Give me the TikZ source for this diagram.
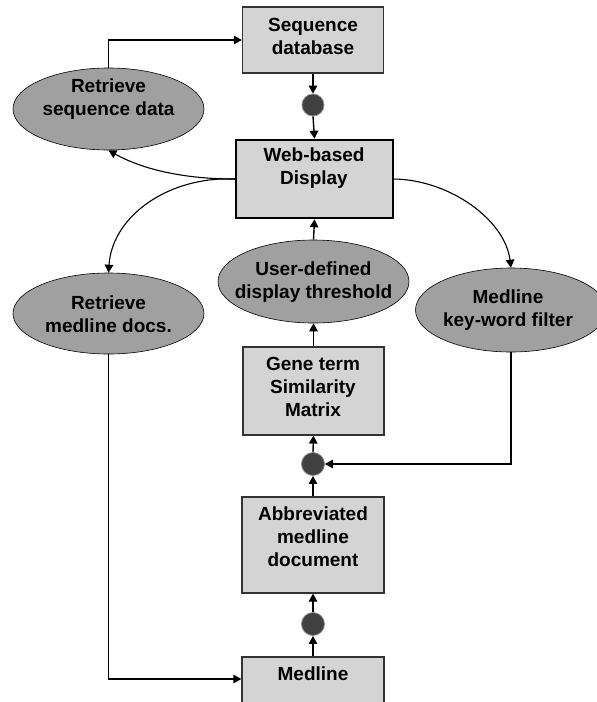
\documentclass[tikz,border=0pt]{standalone}
\usepackage{fontspec}
\setmainfont{Liberation Sans}
\usetikzlibrary{arrows.meta,shapes.geometric}
\definecolor{boxgray}{HTML}{D4D4D4}
\definecolor{ellgray}{HTML}{A0A0A0}
\definecolor{dotgray}{HTML}{404040}
\begin{document}
\begin{tikzpicture}[x=1pt,y=-1pt,
  box/.style={draw=black!80, line width=1.2pt, fill=boxgray, inner sep=0pt},
  ell/.style={ellipse, draw=black, line width=0.6pt, fill=ellgray, inner sep=0pt, minimum width=191pt},
  dot/.style={circle, draw=black!45, line width=0.8pt, fill=dotgray, inner sep=0pt, minimum size=23pt},
  txt/.style={font=\bfseries\fontsize{19}{23}\selectfont, align=center, inner sep=0pt},
  arr/.style={-{Triangle[length=8pt,width=8.5pt]}, line width=1.4pt},
  thin/.style={-{Triangle[length=8pt,width=8.5pt]}, line width=1.1pt}]
\useasboundingbox (0,0) rectangle (597,702);

% boxes
\node[box, minimum width=141pt, minimum height=66pt] (sd) at (313,40) {};
\node[box, draw=black, line width=2.5pt, minimum width=157pt, minimum height=78pt] (web) at (314.5,179) {};
\node[box, minimum width=141pt, minimum height=88pt] (gene) at (313.5,391) {};
\node[box, minimum width=142pt, minimum height=96pt] (abb) at (313,545) {};
\node[box, minimum width=142pt, minimum height=50pt] (med) at (313,682) {};

% ellipses
\node[ell, minimum height=82pt] (rsd) at (108.5,109) {};
\node[ell, minimum height=81pt] (rmd) at (108.5,313.5) {};
\node[ell, minimum height=83pt] (user) at (313.5,281.5) {};
\node[ell, minimum height=84pt] (kwf) at (511,310) {};

% dots
\node[dot, minimum size=22pt] (c1) at (313,105) {};
\node[dot] (c2) at (313,464) {};
\node[dot] (c3) at (313,624) {};

% texts
\node[txt] (sdt) at (313,36) {Sequence\\database};
\node[txt] (rsdt) at (108.5,99) {Retrieve\\sequence data};
\node[txt] (webt) at (314,168) {Web-based\\Display};
\node[txt] (rmdt) at (108.5,314) {Retrieve\\medline docs.};
\node[txt] (usert) at (313.5,282.5) {User-defined\\display threshold};
\node[txt] (kwft) at (508,310) {Medline\\key-word filter};
\node[txt] (genet) at (313,387) {Gene term\\Similarity\\Matrix};
\node[txt] (abbt) at (313,537) {Abbreviated\\medline\\document};
\node[txt] (medt) at (313,674) {Medline};

% connectors
\draw[arr] (rsd.north) |- (sd.west);
\draw[arr] (sd.south) -- (c1.north);
\draw[arr] (c1.south) -- (web.north);
\draw[thin] (web.west) .. controls (180,179) and (140,168) .. (rsd.south);
\draw[thin] (web.west) -- ++(-14,0) .. controls (160,182) and (112,220) .. (rmd.north);
\draw[thin] (web.east) .. controls (450,180) and (505,220) .. (kwf.north);
\draw[arr] (user.north) -- (web.south);
\draw[arr] (gene.north) -- (user.south);
\draw[arr] (c2.north) -- (gene.south);
\draw[arr] (abb.north) -- (c2.south);
\draw[arr] (c3.north) -- (abb.south);
\draw[arr] (med.north) -- (c3.south);
\draw[arr] (kwf.south) |- (c2.east);
\draw[arr] (rmd.south) |- ([yshift=3pt]med.west);
\end{tikzpicture}
\end{document}
